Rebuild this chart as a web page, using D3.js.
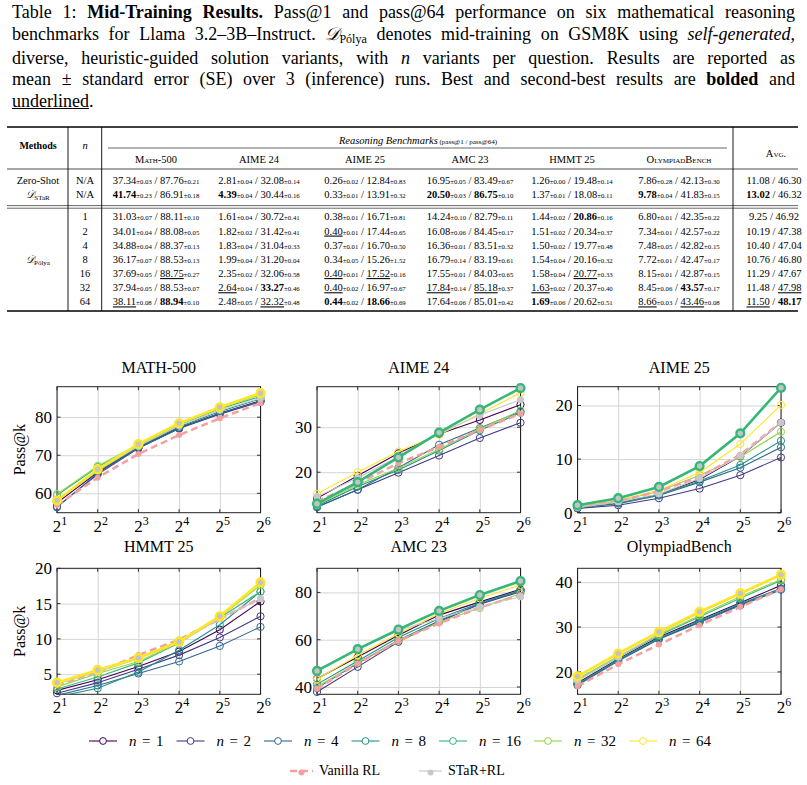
<!DOCTYPE html>
<html>
<head>
<meta charset="utf-8">
<script src="https://cdn.jsdelivr.net/npm/d3@7"></script>
<style>
  body { margin: 0; background: #fff; }
  #caption { position: absolute; left: 12px; top: 2px; width: 783px; font: 18px/21.8px "Liberation Serif", serif; color: #000; }
  #caption div { white-space: nowrap; text-align: justify; text-align-last: justify; }
  #caption div.last { text-align-last: left; }
  .cal { font-style: italic; }
  .sub { font-size: 12px; position: relative; top: 3px; }
  svg { position: absolute; left: 0; top: 0; }
  svg text { font-family: "Liberation Serif", serif; white-space: pre; }
</style>
</head>
<body>
<div id="caption"></div>
<svg id="fig" width="807" height="785"></svg>
<script>
// ---- table data ----
const tableBench = ['Math-500', 'AIME 24', 'AIME 25', 'AMC 23', 'HMMT 25', 'OlympiadBench']
const tableN = ['N/A', 'N/A', '1', '2', '4', '8', '16', '32', '64']
// ** = best, __ = second best
const zeroShot = ['37.34±0.03 / 87.76±0.21', '2.81±0.04 / 32.08±0.14', '0.26±0.02 / 12.84±0.83', '16.95±0.05 / 83.49±0.67', '1.26±0.00 / 19.48±0.14', '7.86±0.28 / 42.13±0.30']
const dStar = ['**41.74**±0.23 / 86.91±0.18', '**4.39**±0.04 / 30.44±0.16', '0.33±0.01 / 13.91±0.32', '**20.50**±0.03 / **86.75**±0.10', '1.37±0.01 / 18.08±0.11', '**9.78**±0.04 / 41.83±0.15']
const polya1 = ['31.03±0.07 / 88.11±0.10', '1.61±0.04 / 30.72±0.41', '0.38±0.01 / 16.71±0.81', '14.24±0.10 / 82.79±0.11', '1.44±0.02 / **20.86**±0.16', '6.80±0.01 / 42.35±0.22']
const polya2 = ['34.01±0.04 / 88.08±0.05', '1.82±0.02 / 31.42±0.41', '__0.40__±0.01 / 17.44±0.65', '16.08±0.06 / 84.45±0.17', '1.51±0.02 / 20.34±0.37', '7.34±0.01 / 42.57±0.22']
const polya4 = ['34.88±0.04 / 88.37±0.13', '1.83±0.04 / 31.04±0.33', '0.37±0.01 / 16.70±0.50', '16.36±0.01 / 83.51±0.32', '1.50±0.02 / 19.77±0.48', '7.48±0.05 / 42.82±0.15']
const polya8 = ['36.17±0.07 / 88.53±0.13', '1.99±0.04 / 31.20±0.04', '0.34±0.05 / 15.26±1.52', '16.79±0.14 / 83.19±0.61', '1.54±0.04 / 20.16±0.32', '7.72±0.01 / 42.47±0.17']
const polya16 = ['37.69±0.05 / __88.75__±0.27', '2.35±0.02 / 32.06±0.58', '__0.40__±0.01 / __17.52__±0.16', '17.55±0.01 / 84.03±0.65', '1.58±0.04 / __20.77__±0.33', '8.15±0.01 / 42.87±0.15']
const polya32 = ['37.94±0.05 / 88.53±0.07', '__2.64__±0.04 / **33.27**±0.46', '__0.40__±0.02 / 16.97±0.67', '__17.84__±0.14 / __85.18__±0.37', '__1.63__±0.02 / 20.37±0.40', '8.45±0.06 / **43.57**±0.17']
const polya64 = ['__38.11__±0.08 / **88.94**±0.10', '2.48±0.05 / __32.32__±0.48', '**0.44**±0.02 / **18.66**±0.69', '17.64±0.06 / 85.01±0.42', '**1.69**±0.06 / 20.62±0.51', '__8.66__±0.03 / __43.46__±0.08']
const tableAvg = ['11.08 / 46.30', '**13.02** / 46.32', '9.25 / 46.92', '10.19 / 47.38', '10.40 / 47.04', '10.76 / 46.80', '11.29 / 47.67', '11.48 / __47.98__', '__11.50__ / **48.17**']
const tableRows = [zeroShot, dStar, polya1, polya2, polya4, polya8, polya16, polya32, polya64]

// ---- chart data: rows are n=1,2,4,8,16,32,64, Vanilla RL, STaR+RL ----
const ks = [2, 4, 8, 16, 32, 64]
const seriesNames = ['n = 1', 'n = 2', 'n = 4', 'n = 8', 'n = 16', 'n = 32', 'n = 64', 'Vanilla RL', 'STaR+RL']
const math500 = [
  [57.5, 65.5, 72.0, 77.2, 81.0, 84.3],
  [56.5, 65.0, 71.8, 77.0, 80.8, 84.0],
  [56.3, 65.3, 71.9, 77.0, 81.0, 84.2],
  [58.2, 65.8, 72.2, 77.5, 81.5, 84.8],
  [59.5, 66.9, 72.6, 78.0, 82.2, 85.4],
  [59.8, 67.2, 72.8, 78.2, 82.4, 85.9],
  [58.1, 66.3, 72.9, 78.4, 82.6, 86.3],
  [56.9, 64.1, 70.3, 75.3, 79.7, 83.7],
  [58.0, 66.0, 72.4, 77.8, 81.8, 85.0]
]
const aime24 = [
  [14.2, 19.2, 24.2, 28.5, 31.6, 35.0],
  [12.3, 16.1, 19.9, 23.7, 27.6, 31.0],
  [12.2, 16.1, 21.0, 26.1, 29.8, 33.5],
  [12.5, 16.8, 20.5, 24.8, 29.3, 33.2],
  [13.0, 17.8, 23.3, 28.8, 33.9, 38.7],
  [12.7, 17.2, 20.9, 25.1, 29.6, 33.7],
  [15.2, 20.0, 24.6, 28.3, 33.0, 37.6],
  [13.5, 17.5, 22.0, 25.6, 29.4, 33.0],
  [14.6, 18.7, 23.5, 28.6, 32.7, 36.1]
]
const aime25 = [
  [1.0, 1.9, 3.4, 6.2, 10.5, 16.8],
  [0.8, 1.4, 2.7, 4.5, 7.0, 10.3],
  [0.9, 1.7, 3.2, 5.7, 8.4, 12.2],
  [1.0, 1.8, 3.3, 5.9, 8.9, 13.4],
  [1.4, 2.7, 4.8, 8.7, 14.8, 23.3],
  [1.1, 2.2, 4.0, 7.0, 10.4, 15.1],
  [1.2, 2.3, 4.2, 7.5, 12.8, 20.1],
  [1.1, 2.1, 4.0, 6.7, 10.8, 16.9],
  [1.0, 2.0, 3.5, 6.4, 10.6, 16.8]
]
const hmmt25 = [
  [2.7, 4.2, 6.1, 8.2, 11.3, 15.3],
  [2.3, 3.8, 5.7, 7.7, 10.2, 13.2],
  [2.0, 3.4, 5.1, 6.8, 9.0, 11.7],
  [1.8, 3.0, 5.3, 8.4, 12.0, 16.7],
  [2.9, 4.6, 6.6, 9.4, 13.0, 16.7],
  [3.2, 5.1, 6.8, 9.5, 13.1, 17.6],
  [3.8, 5.6, 7.3, 9.6, 13.2, 18.0],
  [3.5, 5.3, 7.7, 9.9, 12.8, 15.8],
  [3.6, 5.3, 7.2, 9.5, 12.9, 15.7]
]
const amc23 = [
  [43.5, 52.7, 61.9, 70.4, 76.0, 81.3],
  [37.9, 48.5, 59.1, 67.6, 75.0, 80.3],
  [39.5, 50.0, 59.8, 68.0, 75.2, 80.8],
  [41.1, 51.0, 60.9, 69.0, 75.5, 81.0],
  [46.8, 56.0, 64.3, 72.2, 78.9, 84.8],
  [40.0, 50.3, 59.6, 67.4, 73.4, 79.5],
  [43.3, 53.4, 62.6, 71.1, 77.5, 83.1],
  [39.3, 49.9, 59.5, 66.9, 73.6, 78.9],
  [47.4, 55.8, 64.0, 69.0, 73.9, 78.2]
]
const olympiad = [
  [17.5, 22.9, 27.8, 31.6, 35.4, 39.3],
  [17.2, 22.6, 27.4, 31.2, 35.0, 38.6],
  [17.0, 22.4, 27.3, 31.0, 34.8, 38.3],
  [17.3, 22.7, 27.5, 31.4, 35.2, 38.6],
  [18.1, 23.3, 28.1, 32.3, 36.4, 40.4],
  [18.4, 23.5, 28.3, 32.6, 36.8, 40.6],
  [19.0, 24.1, 28.9, 33.4, 37.5, 41.7],
  [16.8, 21.7, 26.1, 30.4, 34.5, 38.4],
  [18.1, 23.3, 28.5, 33.2, 37.3, 41.6]
]
const panelTitles = ['MATH-500', 'AIME 24', 'AIME 25', 'HMMT 25', 'AMC 23', 'OlympiadBench']
const panelData = [math500, aime24, aime25, hmmt25, amc23, olympiad]
const panelTicks = [[60, 70, 80], [20, 30], [0, 10, 20], [5, 10, 15, 20], [40, 60, 80], [20, 30, 40]]
const panelDomains = [[54.9, 88], [11, 39], [0, 23.5], [2.15, 20], [36.9, 90.2], [15, 43.1]]
const panelBest = [6, 4, 4, 6, 4, 6] // series drawn thick

// ---- caption ----
const D = (s) => `<span class="cal">&#x1D49F;</span><span class="sub">${s}</span>`
const captionLines = [
  'Table 1: <b>Mid-Training Results.</b> Pass@1 and pass@64 performance on six mathematical reasoning',
  `benchmarks for Llama 3.2–3B–Instruct. ${D('Pólya')} denotes mid-training on GSM8K using <i>self-generated</i>,`,
  'diverse, heuristic-guided solution variants, with <i>n</i> variants per question.  Results are reported as',
  'mean ± standard error (SE) over 3 (inference) runs. Best and second-best results are <b>bolded</b> and',
  '<u>underlined</u>.'
]
d3.select('#caption').selectAll('div')
  .data(captionLines)
  .join('div')
    .classed('last', (d, i) => i === captionLines.length - 1)
    .html(d => d)

const svg = d3.select('#fig')

// ---- table ----
const tb = svg.append('g').attr('class', 'table')
const rule = (x1, x2, y, w) => tb.append('line')
  .attr('x1', x1).attr('x2', x2).attr('y1', y).attr('y2', y)
  .attr('stroke', '#000').attr('stroke-width', w)
rule(7, 798, 127, 1.3)
rule(108, 727, 148, 0.6)
rule(7, 798, 169, 0.7)
rule(7, 798, 205.6, 0.6)
rule(7, 798, 208.2, 0.6)
rule(7, 798, 311, 1.3)
;[68, 101.7, 733].forEach(x => tb.append('line')
  .attr('x1', x).attr('x2', x).attr('y1', 127).attr('y2', 311)
  .attr('stroke', '#000').attr('stroke-width', 0.9))

const colX = [156, 259, 365, 470, 572, 679]
const rowY = [183.7, 197.7].concat(d3.range(7).map(i => 220.4 + i * 14.17))

tb.append('text').attr('x', 38).attr('y', 149).attr('text-anchor', 'middle')
  .style('font-size', '10px').style('font-weight', 'bold').text('Methods')
tb.append('text').attr('x', 85).attr('y', 149).attr('text-anchor', 'middle')
  .style('font-size', '10.5px').style('font-style', 'italic').text('n')
const rb = tb.append('text').attr('x', 418).attr('y', 143.5).attr('text-anchor', 'middle')
rb.append('tspan').style('font-size', '10.5px').style('font-style', 'italic').text('Reasoning Benchmarks')
rb.append('tspan').style('font-size', '7px').text(' (pass@1 / pass@64)')
tb.append('text').attr('x', 776).attr('y', 156.5).attr('text-anchor', 'middle')
  .style('font-size', '10.5px').style('font-variant', 'small-caps').text('Avg.')
tb.selectAll('.bench').data(tableBench).join('text')
  .attr('class', 'bench')
  .attr('x', (d, i) => colX[i]).attr('y', 163)
  .attr('text-anchor', 'middle')
  .style('font-size', '10.5px')
  .style('font-variant', (d, i) => (i === 0 || i === 5) ? 'small-caps' : 'normal')
  .text(d => d)

const drawCell = (x, y, s) => {
  const t = tb.append('text').attr('x', x).attr('y', y).attr('text-anchor', 'middle').style('font-size', '10.5px')
  s.split(' / ').forEach((part, i) => {
    if (i) t.append('tspan').text(' / ')
    const m = part.match(/^(\*\*|__)?([\d.]+)(?:\*\*|__)?(?:±([\d.]+))?$/)
    const main = t.append('tspan').text(m[2])
    if (m[1] === '**') main.style('font-weight', 'bold')
    if (m[1] === '__') main.style('text-decoration', 'underline')
    if (m[3]) t.append('tspan').style('font-size', '6.8px').text('±' + m[3])
  })
}
tableRows.forEach((row, r) => {
  row.forEach((s, c) => drawCell(colX[c], rowY[r], s))
  drawCell(774, rowY[r], tableAvg[r])
  tb.append('text').attr('x', 85).attr('y', rowY[r]).attr('text-anchor', 'middle')
    .style('font-size', '10.5px').text(tableN[r])
})
tb.append('text').attr('x', 38).attr('y', rowY[0]).attr('text-anchor', 'middle')
  .style('font-size', '10.5px').text('Zero-Shot')
const methodD = (y, s) => {
  const t = tb.append('text').attr('x', 38).attr('y', y).attr('text-anchor', 'middle').style('font-size', '10.5px')
  t.append('tspan').style('font-style', 'italic').text('\u{1D49F}')
  t.append('tspan').style('font-size', '7px').attr('dy', 2).text(s)
}
methodD(rowY[1], 'STaR')
methodD((rowY[2] + rowY[8]) / 2, 'Pólya')

// ---- charts ----
const panelX = [57, 317, 577.5]
const panelY = [386.7, 568.3]
const pw = 203.5
const ph = 126
const color = i => i < 7 ? d3.interpolateViridis(i / 6) : (i === 7 ? '#f4a0a0' : '#c8c8c8')

panelTitles.forEach((title, p) => {
  const g = svg.append('g').attr('transform', `translate(${panelX[p % 3]},${panelY[Math.floor(p / 3)]})`)
  const x = d3.scaleLog().base(2).domain([2, 64]).range([0, pw])
  const y = d3.scaleLinear().domain(panelDomains[p]).range([ph, 0])

  // grid
  g.append('g')
    .call(d3.axisLeft(y).tickValues(panelTicks[p]).tickSize(-pw).tickFormat(''))
    .call(a => { a.select('.domain').remove(); a.selectAll('line').attr('stroke', '#d4d4d4') })
  g.append('g').attr('transform', `translate(0,${ph})`)
    .call(d3.axisBottom(x).tickValues(ks).tickSize(-ph).tickFormat(''))
    .call(a => { a.select('.domain').remove(); a.selectAll('line').attr('stroke', '#d4d4d4') })

  // small inner ticks
  panelTicks[p].forEach(v => {
    g.append('line').attr('x1', 0).attr('x2', 3.5).attr('y1', y(v)).attr('y2', y(v)).attr('stroke', '#000').attr('stroke-width', 0.8)
    g.append('line').attr('x1', pw - 3.5).attr('x2', pw).attr('y1', y(v)).attr('y2', y(v)).attr('stroke', '#000').attr('stroke-width', 0.8)
  })
  ks.forEach(k => {
    g.append('line').attr('x1', x(k)).attr('x2', x(k)).attr('y1', ph - 3.5).attr('y2', ph).attr('stroke', '#000').attr('stroke-width', 0.8)
    g.append('line').attr('x1', x(k)).attr('x2', x(k)).attr('y1', 0).attr('y2', 3.5).attr('stroke', '#000').attr('stroke-width', 0.8)
  })
  g.append('rect').attr('width', pw).attr('height', ph)
    .attr('fill', 'none').attr('stroke', '#222').attr('stroke-width', 1)

  // y labels
  g.append('g')
    .call(d3.axisLeft(y).tickValues(panelTicks[p]).tickSize(0).tickPadding(5))
    .call(a => {
      a.select('.domain').remove()
      a.attr('font-family', null).attr('font-size', null)
      a.selectAll('text').style('font-size', '17px').attr('fill', '#000')
    })
  // x labels 2^k
  const xl = g.selectAll('.xl').data(ks).join('text')
    .attr('class', 'xl')
    .attr('x', d => x(d) + 3).attr('y', ph + 19)
    .attr('text-anchor', 'middle')
    .style('font-size', '17px')
  xl.append('tspan').text('2')
  xl.append('tspan').attr('dy', -7).style('font-size', '12px').text(d => Math.log2(d))

  g.append('text').attr('x', pw / 2).attr('y', p < 3 ? -14 : -16)
    .attr('text-anchor', 'middle').style('font-size', '16px').text(title)
  if (p % 3 === 0) {
    g.append('text').attr('transform', `translate(-38,${ph / 2}) rotate(-90)`)
      .attr('text-anchor', 'middle').attr('dy', '0.35em').style('font-size', '16px').text('Pass@k')
  }

  g.append('clipPath').attr('id', `clip${p}`)
    .append('rect').attr('width', pw).attr('height', ph)

  const line = d3.line().x((d, i) => x(ks[i])).y(d => y(d))
  const best = panelBest[p]
  const order = d3.range(7).filter(i => i !== best).concat([7, 8, best])
  const [lo, hi] = panelDomains[p]

  order.forEach(i => {
    const vals = panelData[p][i]
    const isBest = i === best
    const s = g.append('g')
    s.append('path')
      .attr('d', line(vals))
      .attr('clip-path', `url(#clip${p})`)
      .attr('fill', 'none')
      .attr('stroke', color(i))
      .attr('stroke-width', isBest ? 2.6 : (i === 7 ? 2.5 : 1.1))
      .attr('stroke-dasharray', i === 7 ? '7,4' : null)
    s.selectAll('circle')
      .data(vals.map((v, j) => [ks[j], v]).filter(d => d[1] >= lo && d[1] <= hi))
      .join('circle')
        .attr('cx', d => x(d[0]))
        .attr('cy', d => y(d[1]))
        .attr('r', i === 7 ? 3 : (isBest ? 3.9 : 3.6))
        .attr('fill', i >= 7 ? color(i) : (isBest ? '#c4c4c4' : 'none'))
        .attr('stroke', i >= 7 ? 'none' : color(i))
        .attr('stroke-width', isBest ? 2.4 : 1)
  })
})

// ---- legend ----
const lg = svg.append('g').attr('class', 'legend')
let lx = 89
let gap = null
seriesNames.slice(0, 7).forEach((name, i) => {
  const e = lg.append('g').attr('transform', `translate(${lx},741)`)
  e.append('line').attr('x1', 0).attr('x2', 28).attr('stroke', color(i)).attr('stroke-width', 1.1)
  e.append('circle').attr('cx', 14).attr('r', 3.4).attr('fill', '#fff').attr('stroke', color(i))
  const t = e.append('text').attr('x', 40).attr('dy', '0.32em').style('font-size', '15px')
  const [nn, eq, num] = name.split(' ')
  t.append('tspan').style('font-style', 'italic').text(nn)
  t.append('tspan').attr('dx', 5.5).text(eq)
  t.append('tspan').attr('dx', 5.5).text(num)
  const w = t.node().getComputedTextLength()
  if (gap === null) gap = 87.5 - 40 - w
  lx += 40 + w + gap
})
;[[290, 7], [419, 8]].forEach(([x0, i]) => {
  const e = lg.append('g').attr('transform', `translate(${x0},771)`)
  e.append('line').attr('x1', 0).attr('x2', 23).attr('stroke', color(i))
    .attr('stroke-width', i === 7 ? 2.5 : 1.2).attr('stroke-dasharray', i === 7 ? '7,4' : null)
  e.append('circle').attr('cx', 11.5).attr('cy', 1.5).attr('r', 3).attr('fill', color(i))
  e.append('text').attr('x', 29).attr('dy', '0.32em').style('font-size', '14px').text(seriesNames[i])
})
</script>
</body>
</html>
